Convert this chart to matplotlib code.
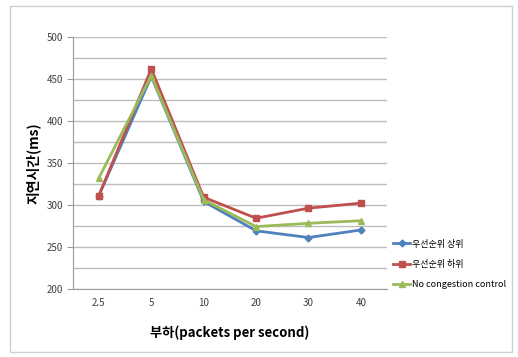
"""
Delay vs load for priority-based congestion control
"""
import matplotlib.pyplot as plt
from matplotlib.patches import Rectangle

plt.rcParams['font.family'] = ['Noto Sans CJK KR', 'DejaVu Sans']

loads = ["2.5", "5", "10", "20", "30", "40"]
delay_high = [311, 453, 304, 269, 261, 270]
delay_low = [311, 462, 309, 284, 296, 302]
delay_none = [332, 454, 306, 274, 278, 281]

fig = plt.figure(figsize=(5.18, 3.57), dpi=100)
fig.patches.append(Rectangle((10 / 518, 5 / 357), 502 / 518, 346 / 357,
                             transform=fig.transFigure, fill=False,
                             edgecolor="#d0d0d0", linewidth=1.0))

ax = fig.add_axes([0.1403, 0.1913, 0.607, 0.705])
x = range(len(loads))
ax.plot(x, delay_high, color="#4F81BD", marker="D", markersize=3.5, linewidth=2,
        label="우선순위 상위")
ax.plot(x, delay_low, color="#C0504D", marker="s", markersize=5, linewidth=2,
        label="우선순위 하위")
ax.plot(x, delay_none, color="#9BBB59", marker="^", markersize=5, linewidth=2,
        label="No congestion control")

ax.set_xlim(-0.5, len(loads) - 0.5)
ax.set_ylim(200, 500)
ax.set_xticks(list(x))
ax.set_xticklabels(loads)
ax.set_yticks(range(200, 501, 50))
ax.set_yticks(range(200, 501, 25), minor=True)
ax.grid(True, which="both", axis="y", color="#bdbdbd", linewidth=1)
ax.set_axisbelow(True)
for side in ["top", "right"]:
    ax.spines[side].set_visible(False)
ax.spines["left"].set_color("#9a9a9a")
ax.spines["bottom"].set_color("#9a9a9a")
ax.tick_params(axis="y", which="major", length=4, color="#9a9a9a",
               labelsize=7, labelcolor="#404040", pad=3)
ax.tick_params(axis="y", which="minor", length=0)
ax.tick_params(axis="x", length=0, labelsize=7, labelcolor="#404040", pad=7)

ax.set_ylabel("지연시간(ms)", fontsize=10, fontweight="bold", labelpad=4)
ax.set_xlabel("부하(packets per second)", fontsize=9.5, fontweight="bold", labelpad=12)

ax.legend(loc="upper left", bbox_to_anchor=(1.019, 0.195), frameon=False,
          fontsize=6.5, handlelength=1.9, handletextpad=0.25, labelspacing=1.25,
          borderpad=0, borderaxespad=0)

fig.savefig("out.png", dpi=100)
